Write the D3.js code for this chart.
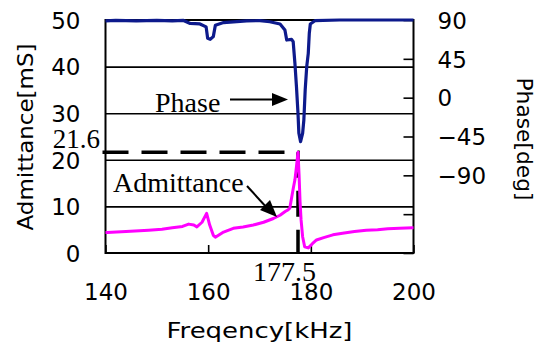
<!DOCTYPE html>
<html><head><meta charset="utf-8">
<script src="https://cdn.jsdelivr.net/npm/d3@7"></script>
<style>body{margin:0;background:#fff}svg{display:block}</style>
</head><body>
<svg id="c" width="540" height="347"></svg>
<script>
// Data
const admFreq = [140.0,140.3,144,148.4,151,153,155,156.2,157.2,157.8,158.8,159.7,160.3,161.0,161.4,163,164.9,166.8,168.8,170.8,172.7,174,175,175.6,175.9,176.3,176.6,176.9,177.2,177.5,177.7,177.9,178.1,178.4,178.8,179.5,180.3,181.1,182.5,184.3,186.5,188.5,190.8,193,195,197.3,199.9,200];
const admVal  = [4.4,4.4,4.6,4.9,5.1,5.4,5.7,6.2,6.0,5.6,6.6,8.5,6.0,3.8,3.4,4.5,5.3,5.6,6.0,6.6,7.4,8.1,8.9,9.3,9.6,12.1,14.0,15.7,18.5,21.6,17.0,11.0,7.1,3.5,1.35,1.1,2.0,2.8,3.3,3.9,4.3,4.6,4.9,5.0,5.2,5.3,5.4,5.4];
const phFreq = [140.0,142,146,150,153,155.2,156.5,158.4,159.6,159.9,160.4,161.0,161.4,163.0,167.5,170.1,172.0,174.0,174.95,175.3,176.25,176.56,176.9,177.2,177.5,177.67,178.0,178.4,178.64,178.9,179.2,179.5,179.7,179.9,180.8,185.6,190,195,200];
const phVal  = [89,89.5,89,89.5,89,89.5,86,85.4,82,68.8,67.6,70.7,84,87,89,89.2,88,85.4,78.4,66.8,67.6,64.9,39.8,12.7,-18.1,-41.3,-51,-41.3,-25.9,8.9,35.9,51.4,74.6,85.4,89.2,90,90,90,90];
const xTicks = [140,160,180,200];
const admTicks = [0,10,20,30,40,50];
const admGrid = [10,20,30,40];
const phTicks = [-180,-135,-90,-45,0,45,90];
const phLabels = [-90,-45,0,45,90];
const resFreq = 177.5, resAdm = 21.6;

const svg = d3.select('#c');
const L=105.5, R=413.5, T=20, B=253;
const x = d3.scaleLinear([140,200],[L,R]);
const yA = d3.scaleLinear([0,50],[B,T]);
const yP = d3.scaleLinear([-180,90],[B,T]);
const sans = 'DejaVu Sans, sans-serif';
const serif = 'Liberation Serif, Times New Roman, serif';

// gridlines
svg.append('g').attr('transform',`translate(${L},0)`)
  .call(d3.axisLeft(yA).tickValues(admGrid).tickSize(-(R-L)).tickFormat(''))
  .call(g=>{g.select('.domain').remove();g.selectAll('line').attr('stroke','#000').attr('stroke-width',1.6);});

// bottom axis
svg.append('g').attr('transform',`translate(0,${B})`)
  .call(d3.axisBottom(x).tickValues(xTicks).tickSizeInner(-8).tickSizeOuter(0).tickPadding(31).tickFormat(d3.format('d')))
  .call(g=>{g.select('.domain').remove();g.selectAll('line').attr('stroke','#000').attr('stroke-width',1.6);
    g.selectAll('text').attr('font-family',sans).attr('font-size',23).attr('fill','#000');});

// left axis labels
svg.append('g').attr('transform',`translate(${L},0)`)
  .call(d3.axisLeft(yA).tickValues(admTicks).tickSize(0).tickPadding(25))
  .call(g=>{g.select('.domain').remove();
    g.selectAll('text').attr('font-family',sans).attr('font-size',23).attr('fill','#000').attr('dy','0.36em');});

// right axis
svg.append('g').attr('transform',`translate(${R},0)`)
  .call(d3.axisRight(yP).tickValues(phTicks).tickSizeInner(-10).tickSizeOuter(0).tickPadding(24)
    .tickFormat(d=>phLabels.includes(d)?d3.format('d')(d):''))
  .call(g=>{g.select('.domain').remove();g.selectAll('line').attr('stroke','#000').attr('stroke-width',1.6);
    g.selectAll('text').attr('font-family',sans).attr('font-size',23).attr('fill','#000').attr('dy','0.36em');});

// frame
svg.append('rect').attr('x',L).attr('y',T).attr('width',R-L).attr('height',B-T)
  .attr('fill','none').attr('stroke','#000').attr('stroke-width',2);

// dashed resonance marker
svg.append('path')
  .attr('d',`M${L-3},${yA(resAdm)}H${x(resFreq)}V${B}`)
  .attr('fill','none').attr('stroke','#000').attr('stroke-width',3.5).attr('stroke-dasharray','26,13');

// curves
const lineA = d3.line().x((d,i)=>x(admFreq[i])).y(d=>yA(d));
svg.append('path').datum(admVal).attr('d',lineA).attr('fill','none')
  .attr('stroke','#ff00ff').attr('stroke-width',3).attr('stroke-linejoin','round');
const lineP = d3.line().x((d,i)=>x(phFreq[i])).y(d=>yP(d));
svg.append('path').datum(phVal).attr('d',lineP).attr('fill','none')
  .attr('stroke','#0d1a8c').attr('stroke-width',3.2).attr('stroke-linejoin','round');

// annotations
svg.append('text').attr('x',155).attr('y',112).attr('font-family',serif).attr('font-size',28).text('Phase');
svg.append('line').attr('x1',230).attr('y1',99.5).attr('x2',274).attr('y2',99.5).attr('stroke','#000').attr('stroke-width',2);
svg.append('path').attr('d','M288,99.5L272,93L272,106Z').attr('fill','#000');
svg.append('text').attr('x',113).attr('y',192).attr('font-family',serif).attr('font-size',28).text('Admittance');
svg.append('line').attr('x1',247).attr('y1',186).attr('x2',268).attr('y2',209).attr('stroke','#000').attr('stroke-width',2);
svg.append('path').attr('d','M277,217L260,210L270,200Z').attr('fill','#000');
svg.append('text').attr('x',100).attr('y',148).attr('text-anchor','end').attr('font-family',serif).attr('font-size',27).text('21.6');
svg.append('text').attr('x',284.5).attr('y',281).attr('text-anchor','middle').attr('font-family',serif).attr('font-size',28).text('177.5');

// axis titles
svg.append('text').attr('transform','translate(33,137) rotate(-90)').attr('text-anchor','middle')
  .attr('font-family',sans).attr('font-size',22).attr('textLength',187).attr('lengthAdjust','spacingAndGlyphs').text('Admittance[mS]');
svg.append('text').attr('transform','translate(517,139) rotate(90)').attr('text-anchor','middle')
  .attr('font-family',sans).attr('font-size',22).attr('textLength',123).attr('lengthAdjust','spacingAndGlyphs').text('Phase[deg]');
svg.append('text').attr('x',259.5).attr('y',338).attr('text-anchor','middle')
  .attr('font-family',sans).attr('font-size',22).attr('textLength',186).attr('lengthAdjust','spacingAndGlyphs').text('Freqency[kHz]');
</script>
</body></html>
